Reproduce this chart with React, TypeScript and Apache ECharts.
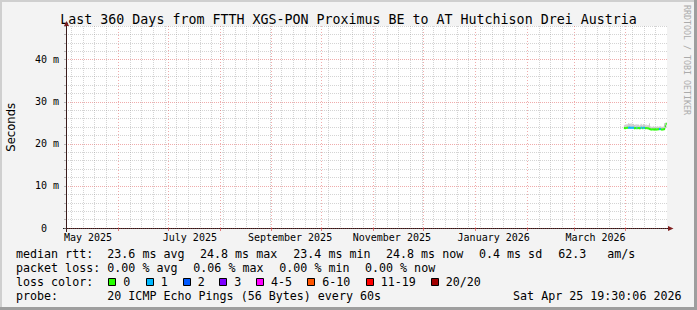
import React, { useEffect, useRef } from 'react';
import * as echarts from 'echarts';

const W = 697;
const H = 310;
const MONO = 'DejaVu Sans Mono';

const TITLE = 'Last 360 Days from FTTH XGS-PON Proximus BE to AT Hutchison Drei Austria';
const Y_TITLE = 'Seconds';
const SIDE_TEXT = 'RRDTOOL / TOBI OETIKER';

const RANGE_START = Date.UTC(2025, 3, 30, 19, 30);
const RANGE_END = Date.UTC(2026, 3, 25, 19, 30);

const monthTickDates = [
  '2025-06-01', '2025-07-01', '2025-08-01', '2025-09-01', '2025-10-01', '2025-11-01',
  '2025-12-01', '2026-01-01', '2026-02-01', '2026-03-01', '2026-04-01',
];
const xLabelDates = ['2025-05-14', '2025-07-14', '2025-09-12', '2025-11-12', '2026-01-12', '2026-03-14'];
const xLabels = ['May 2025', 'July 2025', 'September 2025', 'November 2025', 'January 2026', 'March 2026'];
const yTickValues = [0, 10, 20, 30, 40];
const yTickLabels = ['0\u00a0\u00a0', '10 m', '20 m', '30 m', '40 m'];

// data: 12-hour steps starting 2026-03-31 00:00 UTC
const DATA_START = Date.UTC(2026, 2, 31, 0, 0);
const STEP_MS = 12 * 3600 * 1000;
const medianMs = [
  23.75, 23.7, 23.75, 23.8, 23.8, 23.8, 23.85, 23.8, 23.85, 23.8,
  23.8, 23.85, 23.7, 23.75, 23.7, 23.8, 23.7, 23.75, 23.7, 23.7,
  23.8, 23.8, 23.7, 23.8, 23.8, 23.7, 23.75, 23.7, 23.7, 23.65,
  23.55, 23.45, 23.4, 23.4, 23.45, 23.4, 23.4, 23.45, 23.4, 23.4,
  23.45, 23.45, 23.5, 23.5, 23.4, 23.4, 23.4, 23.45, 23.5, 24.2,
  24.8,
];
const lostPings = [
  0, 0, 0, 0, 0, 1, 1, 1, 1, 1,
  1, 1, 0, 0, 0, 1, 0, 0, 0, 0,
  1, 1, 0, 1, 1, 0, 0, 0, 0, 0,
  0, 0, 0, 0, 0, 0, 0, 0, 0, 0,
  0, 0, 1, 1, 0, 0, 0, 0, 0, 0,
  0,
];
const smokeLowMs = [
  23.6, 23.55, 23.6, 23.6, 23.65, 23.6, 23.65, 23.6, 23.65, 23.6,
  23.6, 23.65, 23.55, 23.6, 23.55, 23.6, 23.55, 23.6, 23.55, 23.55,
  23.6, 23.6, 23.55, 23.6, 23.6, 23.55, 23.6, 23.55, 23.55, 23.5,
  23.4, 23.3, 23.3, 23.3, 23.3, 23.3, 23.3, 23.3, 23.3, 23.3,
  23.3, 23.3, 23.35, 23.35, 23.3, 23.3, 23.3, 23.3, 23.35, 23.6,
  24.0,
];
const smokeHighMs = [
  24.4, 24.6, 24.5, 24.7, 24.6, 24.9, 24.8, 24.7, 24.9, 24.6,
  24.8, 24.7, 24.5, 24.6, 24.4, 24.7, 24.5, 24.6, 24.3, 24.5,
  24.8, 24.6, 24.4, 24.7, 24.5, 24.4, 24.6, 24.3, 24.5, 24.4,
  24.9, 24.2, 24.0, 24.1, 24.0, 24.2, 24.0, 24.1, 24.0, 24.1,
  24.2, 24.0, 24.1, 24.2, 24.0, 24.1, 24.0, 24.1, 24.9, 24.9,
  25.0,
];

const rttLabel = 'median rtt:';
const rttStats = ['23.6 ms avg', '24.8 ms max', '23.4 ms min', '24.8 ms now', '0.4 ms sd', '62.3', 'am/s'];
const lossLabel = 'packet loss:';
const lossStats = ['0.00 % avg', '0.06 % max', '0.00 % min', '0.00 % now'];
const lossColorLabel = 'loss color:';
const lossBuckets = ['0', '1', '2', '3', '4-5', '6-10', '11-19', '20/20'];
const probeLabel = 'probe:';
const probeText = '20 ICMP Echo Pings (56 Bytes) every 60s';
const stampText = 'Sat Apr 25 19:30:06 2026';

// styles / layout
const LOSS_COLORS = ['#26ff00', '#00b8ff', '#0059ff', '#7e00ff', '#ff00ff', '#ff5500', '#ff0000', '#a10000'];
const ROW1_X = [16, 107.3, 200, 293.3, 386, 479, 558.3, 607.3];
const ROW2_X = [16, 107.3, 193.3, 279.3, 365];
const BOX_X = [108.3, 145.7, 182.7, 219.3, 256, 307.3, 365.7, 430.7];
const ROW_Y = [254.2, 268.2, 282.2, 296.2];
const GRID_RED = 'rgba(222,72,72,0.45)';
const GRID_GREY = 'rgba(143,143,143,0.38)';

function lossBucket(l: number): number {
  if (l <= 3) return l;
  if (l <= 5) return 4;
  if (l <= 10) return 5;
  if (l <= 19) return 6;
  return 7;
}

const dayMs = 24 * 3600 * 1000;
const toTs = (d: string) => Date.parse(d + 'T00:00:00Z');
const monthTicks = monthTickDates.map(toTs);
const labelTs = xLabelDates.map(toTs);
const weeklyTicks: number[] = [];
for (let t = toTs('2025-05-04'); t < RANGE_END; t += 7 * dayMs) {
  if (!monthTicks.some((m) => Math.abs(m - t) < dayMs)) weeklyTicks.push(t);
}

const smokeData = medianMs.map((_, i) => [DATA_START + i * STEP_MS, smokeLowMs[i], smokeHighMs[i]]);
const medianData = medianMs.map((m, i) => [DATA_START + i * STEP_MS, m, lostPings[i]]);

function buildGraphic() {
  const g: any[] = [];
  // frame shading
  g.push({ type: 'rect', shape: { x: 0, y: 0, width: W, height: 2 }, style: { fill: '#cfcfcf' }, silent: true });
  g.push({ type: 'rect', shape: { x: 0, y: 0, width: 2, height: H }, style: { fill: '#cfcfcf' }, silent: true });
  g.push({ type: 'rect', shape: { x: W - 3, y: 0, width: 3, height: H }, style: { fill: '#9e9e9e' }, silent: true });
  g.push({ type: 'rect', shape: { x: 0, y: H - 3, width: W, height: 3 }, style: { fill: '#9e9e9e' }, silent: true });
  // title
  g.push({ type: 'text', x: 348.5, y: 19.4, style: { text: TITLE, font: `13.3px "${MONO}"`, fill: '#000', align: 'center', verticalAlign: 'middle' } });
  // y title
  g.push({ type: 'text', x: 11, y: 127.3, rotation: Math.PI / 2, style: { text: Y_TITLE, font: '11.6px "DejaVu Sans"', fill: '#000', align: 'center', verticalAlign: 'middle' } });
  // side text
  g.push({ type: 'text', x: 686.5, y: 60, rotation: -Math.PI / 2, style: { text: SIDE_TEXT, font: `8.3px "${MONO}"`, fill: '#ababab', align: 'center', verticalAlign: 'middle' } });
  // axis extensions and arrows
  g.push({ type: 'line', shape: { x1: 66.5, y1: 228, x2: 66.5, y2: 232 }, style: { stroke: '#3a1c1c', lineWidth: 1 } });
  g.push({ type: 'line', shape: { x1: 63, y1: 228.5, x2: 670, y2: 228.5 }, style: { stroke: '#202020', lineWidth: 1 } });
  g.push({ type: 'polygon', shape: { points: [[64, 26], [69, 26], [66.5, 21]] }, style: { fill: '#7f1f1f' } });
  g.push({ type: 'polygon', shape: { points: [[668, 226], [668, 231], [673.5, 228.5]] }, style: { fill: '#7f1f1f' } });

  const txt = (x: number, y: number, text: string, align = 'left') => ({
    type: 'text', x, y,
    style: { text, font: `11.66px "${MONO}"`, fill: '#000', align, verticalAlign: 'middle' },
  });
  g.push(txt(ROW1_X[0], ROW_Y[0], rttLabel));
  rttStats.forEach((s, i) => g.push(txt(ROW1_X[i + 1], ROW_Y[0], s)));
  g.push(txt(ROW2_X[0], ROW_Y[1], lossLabel));
  lossStats.forEach((s, i) => g.push(txt(ROW2_X[i + 1], ROW_Y[1], s)));
  g.push(txt(16, ROW_Y[2], lossColorLabel));
  lossBuckets.forEach((b, i) => {
    g.push({
      type: 'rect',
      shape: { x: Math.round(BOX_X[i]) + 0.5, y: 278.5, width: 7, height: 7 },
      style: { fill: LOSS_COLORS[i], stroke: '#000', lineWidth: 1 },
    });
    g.push(txt(BOX_X[i] + 15, ROW_Y[2], b));
  });
  g.push(txt(16, ROW_Y[3], probeLabel));
  g.push(txt(107.3, ROW_Y[3], probeText));
  g.push(txt(681.5, ROW_Y[3], stampText, 'right'));
  return g;
}

export default function App() {
  const ref = useRef<HTMLDivElement>(null);
  useEffect(() => {
    const chart = echarts.init(ref.current!, null, { renderer: 'svg', width: W, height: H });
    const option: any = {
      animation: false,
      backgroundColor: '#f3f3f3',
      grid: {
        left: 66, right: 30, top: 26, bottom: 82,
        show: true, backgroundColor: '#ffffff', borderWidth: 0,
        containLabel: false, outerBoundsMode: 'none',
      },
      xAxis: [
        {
          type: 'value', min: RANGE_START, max: RANGE_END, position: 'bottom',
          axisLine: { show: false },
          axisTick: { show: true, length: 3, customValues: monthTicks, lineStyle: { color: 'rgba(222,72,72,0.7)' } },
          axisLabel: {
            show: true, customValues: labelTs, margin: 4.5,
            formatter: (v: number) => {
              const i = labelTs.findIndex((t) => Math.abs(t - v) < 1000);
              return i >= 0 ? xLabels[i] : '';
            },
            fontFamily: MONO, fontSize: 10, color: '#000',
          },
          splitLine: { show: true, lineStyle: { color: GRID_RED, width: 1, type: [1, 2] } },
        },
        {
          type: 'value', min: RANGE_START, max: RANGE_END, position: 'bottom',
          axisLine: { show: false },
          axisTick: { show: false, customValues: weeklyTicks },
          axisLabel: { show: false },
          splitLine: { show: true, lineStyle: { color: GRID_GREY, width: 1, type: [1, 1] } },
        },
      ],
      yAxis: {
        type: 'value', min: 0, max: 48, interval: 2,
        axisLine: { show: true, lineStyle: { color: '#3a1c1c', width: 1 } },
        axisTick: { show: true, length: 2, lineStyle: { color: 'rgba(143,143,143,0.6)' } },
        axisLabel: {
          margin: 7, fontFamily: MONO, fontSize: 10, color: '#000',
          formatter: (v: number) => {
            const i = yTickValues.indexOf(v);
            return i >= 0 ? yTickLabels[i] : '';
          },
        },
        splitLine: {
          show: true,
          lineStyle: { color: [GRID_RED, GRID_GREY, GRID_GREY, GRID_GREY, GRID_GREY], width: 1, type: [1, 1] },
        },
      },
      series: [
        {
          type: 'custom', name: 'smoke', xAxisIndex: 0, yAxisIndex: 0, clip: true, z: 3,
          data: smokeData,
          renderItem: (_p: any, api: any) => {
            const t = api.value(0);
            const lo = api.value(1);
            const hi = api.value(2);
            const a = api.coord([t, hi]);
            const b = api.coord([t + STEP_MS, lo]);
            return {
              type: 'rect',
              shape: { x: a[0], y: a[1], width: b[0] - a[0] + 0.2, height: b[1] - a[1] },
              style: { fill: '#c9c9c9' },
            };
          },
        },
        {
          type: 'custom', name: 'median', xAxisIndex: 0, yAxisIndex: 0, clip: true, z: 4,
          data: medianData,
          renderItem: (_p: any, api: any) => {
            const t = api.value(0);
            const m = api.value(1);
            const l = api.value(2);
            const a = api.coord([t, m]);
            const b = api.coord([t + STEP_MS, m]);
            return {
              type: 'rect',
              shape: { x: a[0], y: a[1] - 1, width: b[0] - a[0] + 0.3, height: 2 },
              style: { fill: LOSS_COLORS[lossBucket(l)] },
            };
          },
        },
      ],
      graphic: buildGraphic(),
    };
    chart.setOption(option);
    return () => chart.dispose();
  }, []);
  return <div ref={ref} style={{ position: 'fixed', left: 0, top: 0, width: W, height: H }} />;
}
